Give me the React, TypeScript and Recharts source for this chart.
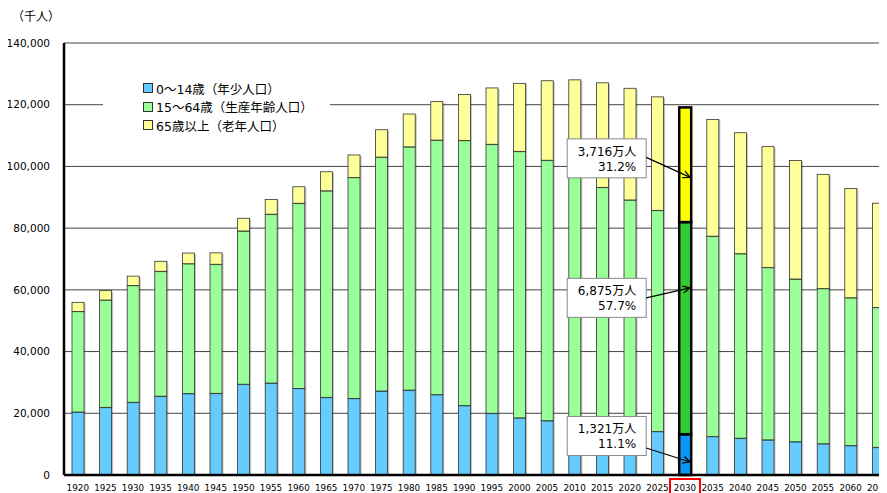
import React from "react";
import { Bar, BarChart, CartesianGrid, Legend, XAxis, YAxis } from "recharts";

const years = [
  "1920", "1925", "1930", "1935", "1940", "1945", "1950", "1955", "1960", "1965",
  "1970", "1975", "1980", "1985", "1990", "1995", "2000", "2005", "2010", "2015",
  "2020", "2025", "2030", "2035", "2040", "2045", "2050", "2055", "2060", "2065",
];
// thousands of people
const young = [
  20416, 21924, 23579, 25545, 26369, 26477, 29428, 29798, 28067, 25166,
  24823, 27221, 27507, 26033, 22486, 20014, 18505, 17585, 16839, 15945,
  15075, 14073, 13212, 12457, 11936, 11384, 10767, 10123, 9508, 8975,
];
const working = [
  32605, 34792, 37807, 40484, 42099, 41821, 49658, 54729, 60002, 66928,
  71566, 75807, 78835, 82506, 85904, 87165, 86380, 84422, 81735, 77282,
  74058, 71701, 68754, 64942, 59777, 55845, 52750, 50276, 47928, 45291,
];
const elderly = [
  2941, 3021, 3064, 3225, 3454, 3700, 4109, 4747, 5350, 6181,
  7331, 8865, 10647, 12468, 14895, 18261, 22041, 25761, 29484, 33868,
  36192, 36771, 37160, 37817, 39206, 39192, 38406, 37042, 35403, 33810,
];
const yTicks = [0, 20000, 40000, 60000, 80000, 100000, 120000, 140000];
const seriesKeys = ["young", "working", "elderly"];
const seriesNames = ["0～14歳（年少人口）", "15～64歳（生産年齢人口）", "65歳以上（老年人口）"];
const unitLabel = "（千人）";
const highlightYear = "2030";

const data = years.map((year, i) => ({
  year,
  young: young[i],
  working: working[i],
  elderly: elderly[i],
}));

const FONT = '"DejaVu Sans", Verdana, "Noto Sans CJK JP", sans-serif';

const COLORS = {
  young: { normal: "#66CCFF", hi: "#0A96F5" },
  working: { normal: "#99FF99", hi: "#33CC33" },
  elderly: { normal: "#FFFF99", hi: "#FFFF00" },
};

// where each arrow tip sits in its segment, and box / arrow-start offsets from the tip
const CALLOUT = {
  elderly: { tip: 0.61, box: -19, start: -20 },
  working: { tip: 0.31, box: 10, start: 10 },
  young: { tip: 0.68, box: -26, start: -14 },
};
const BOX_W = 79;
const BOX_H = 39;

function Callouts({ x, y, width, height, row }) {
  const k = height / row.elderly;
  const total = row.young + row.working + row.elderly;
  const segs = [
    { key: "elderly", top: y, h: height, v: row.elderly },
    { key: "working", top: y + height, h: row.working * k, v: row.working },
    { key: "young", top: y + height + row.working * k, h: row.young * k, v: row.young },
  ];
  const tipX = x + width - 1;
  const boxRight = x + width / 2 - 39;
  return (
    <g>
      {segs.map((s) => {
        const c = CALLOUT[s.key];
        const tipY = s.top + s.h * c.tip;
        const boxCy = tipY + c.box;
        const startY = tipY + c.start;
        const ang = Math.atan2(tipY - startY, tipX - boxRight);
        const len = 8;
        const a1 = ang + Math.PI - 0.45;
        const a2 = ang + Math.PI + 0.45;
        return (
          <g key={s.key}>
            <rect x={boxRight - BOX_W} y={boxCy - BOX_H / 2} width={BOX_W} height={BOX_H} fill="#fff" stroke="#888" strokeWidth={1} />
            <text x={boxRight - 10} y={boxCy - 6.5} textAnchor="end" dominantBaseline="central" fontSize={12} fontFamily={FONT} fill="#000">
              {`${Math.round(s.v / 10).toLocaleString("en-US")}万人`}
            </text>
            <text x={boxRight - 10} y={boxCy + 8.5} textAnchor="end" dominantBaseline="central" fontSize={12} fontFamily={FONT} fill="#000">
              {`${((s.v / total) * 100).toFixed(1)}%`}
            </text>
            <line x1={boxRight} y1={startY} x2={tipX} y2={tipY} stroke="#000" strokeWidth={1.2} />
            <polyline
              points={`${tipX + len * Math.cos(a1)},${tipY + len * Math.sin(a1)} ${tipX},${tipY} ${tipX + len * Math.cos(a2)},${tipY + len * Math.sin(a2)}`}
              fill="none"
              stroke="#000"
              strokeWidth={1.2}
            />
          </g>
        );
      })}
    </g>
  );
}

function makeShape(key) {
  return (props) => {
    const { x, y, width, height, payload } = props;
    if (!height || height <= 0) return <g />;
    const hi = payload.year === highlightYear;
    const fill = hi ? COLORS[key].hi : COLORS[key].normal;
    return (
      <g>
        {!hi && <rect x={x + 1.5} y={y + 1} width={width} height={height} fill="#000" opacity={0.25} />}
        <rect
          x={x}
          y={y}
          width={width}
          height={height}
          fill={fill}
          stroke={hi ? "#000" : "#333"}
          strokeWidth={hi ? 2.5 : 0.8}
        />
        {hi && key === "elderly" && <Callouts x={x} y={y} width={width} height={height} row={payload} />}
      </g>
    );
  };
}

const XTick = ({ x, y, payload }) => (
  <g>
    {payload.value === highlightYear && (
      <rect x={x - 15} y={y + 4} width={30} height={20} fill="none" stroke="#FF0000" strokeWidth={2} />
    )}
    <text x={x} y={y + 13} textAnchor="middle" dominantBaseline="central" fontSize={8.8} fontFamily={FONT} fill="#000">
      {payload.value}
    </text>
  </g>
);

const renderLegend = () => (
  <div
    style={{
      background: "#fff",
      width: 227,
      height: 66,
      boxSizing: "border-box",
      padding: "7px 0 0 40px",
      fontFamily: FONT,
      fontSize: 12.5,
      color: "#000",
    }}
  >
    {seriesKeys.map((k, i) => (
      <div key={k} style={{ display: "flex", alignItems: "center", height: 18.5, whiteSpace: "nowrap" }}>
        <span
          style={{
            display: "inline-block",
            width: 8,
            height: 8,
            border: "1px solid #333",
            background: COLORS[k].normal,
            marginRight: 3,
          }}
        />
        {seriesNames[i]}
      </div>
    ))}
  </div>
);

export default function App() {
  return (
    <div style={{ position: "relative", width: 879, height: 485, overflow: "hidden" }}>
      <div
        style={{
          position: "absolute",
          left: 4,
          top: 0,
          fontFamily: FONT,
          fontSize: 12,
          lineHeight: "18px",
          color: "#000",
        }}
      >
        {unitLabel}
      </div>
      <BarChart
        width={884}
        height={485}
        data={data}
        barSize={12}
        margin={{ top: 35, right: 0, left: 0, bottom: 0 }}
      >
        <CartesianGrid vertical={false} stroke="#444" strokeWidth={1} />
        <XAxis
          dataKey="year"
          interval={0}
          height={18}
          tickLine={false}
          tickSize={0}
          tickMargin={0}
          axisLine={{ stroke: "#000", strokeWidth: 2.5 }}
          tick={<XTick />}
        />
        <YAxis
          width={56}
          domain={[0, 140000]}
          ticks={yTicks}
          tickLine={false}
          tickSize={0}
          tickMargin={14}
          axisLine={{ stroke: "#000", strokeWidth: 2.5 }}
          tickFormatter={(v) => v.toLocaleString("en-US")}
          tick={{ fill: "#000", fontSize: 10.5, fontFamily: FONT }}
        />
        <Legend
          layout="vertical"
          align="center"
          verticalAlign="middle"
          content={renderLegend}
          wrapperStyle={{ left: 95, top: 64, width: 227, height: 66 }}
        />
        {seriesKeys.map((k, i) => (
          <Bar
            key={k}
            dataKey={k}
            name={seriesNames[i]}
            stackId="pop"
            fill={COLORS[k].normal}
            shape={makeShape(k)}
            isAnimationActive={false}
          />
        ))}
      </BarChart>
    </div>
  );
}
